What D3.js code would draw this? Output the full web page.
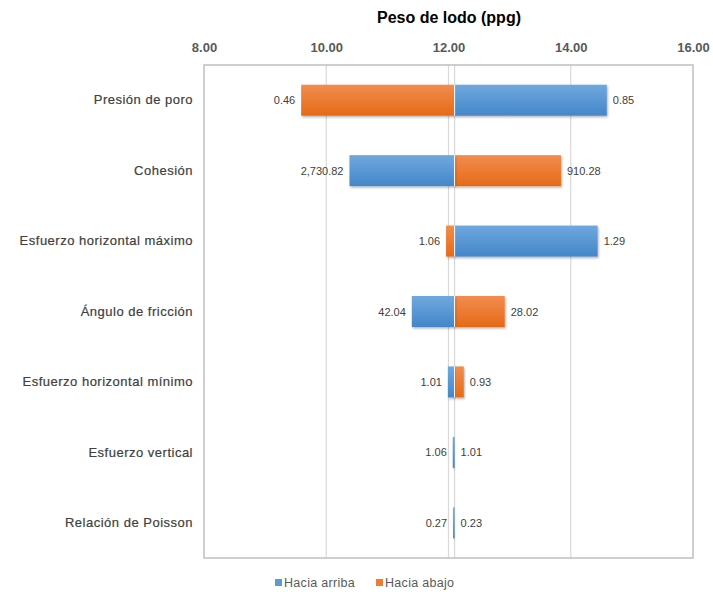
<!DOCTYPE html>
<html>
<head>
<meta charset="utf-8">
<script src="https://cdn.jsdelivr.net/npm/d3@7"></script>
<style>
  body { margin: 0; background: #fff; }
  text { font-family: "Liberation Sans", Arial, sans-serif; }
</style>
</head>
<body>
<svg id="chart" width="713" height="592"></svg>
<script>
// datos del grafico tornado
let categorias = ["Presión de poro", "Cohesión", "Esfuerzo horizontal máximo", "Ángulo de fricción",
  "Esfuerzo horizontal mínimo", "Esfuerzo vertical", "Relación de Poisson"]
let base = 12.1
let haciaArriba = [14.59, 10.38, 14.44, 11.40, 11.99, 12.07, 12.075]
let haciaAbajo = [9.59, 13.84, 11.96, 12.92, 12.25, 12.1, 12.1]
let etiquetaIzq = ["0.46", "2,730.82", "1.06", "42.04", "1.01", "1.06", "0.27"]
let etiquetaDer = ["0.85", "910.28", "1.29", "28.02", "0.93", "1.01", "0.23"]
let ticks = [8, 10, 12, 14, 16]

let svg = d3.select("#chart")
let izqX = 204, derX = 693, arribaY = 65, abajoY = 558

let xScale = d3.scaleLinear().domain([8, 16]).range([izqX, derX])
let yScale = d3.scaleBand().domain(categorias).range([arribaY, abajoY]).paddingInner(0.56).paddingOuter(0.28)

let defs = svg.append("defs")
function grad(id, c1, c2) {
  let g = defs.append("linearGradient").attr("id", id).attr("x1", 0).attr("y1", 0).attr("x2", 0).attr("y2", 1)
  g.append("stop").attr("offset", "0%").attr("stop-color", c1)
  g.append("stop").attr("offset", "100%").attr("stop-color", c2)
}
grad("gAzul", "#6fa8de", "#4486c9")
grad("gNaranja", "#f28c4e", "#e56a17")
let f = defs.append("filter").attr("id", "sombra").attr("x", "-10%").attr("y", "-10%").attr("width", "130%").attr("height", "140%")
f.append("feDropShadow").attr("dx", 1).attr("dy", 1.5).attr("stdDeviation", 1).attr("flood-color", "#000").attr("flood-opacity", 0.3)

// titulo
svg.append("text").attr("x", 449).attr("y", 23).attr("text-anchor", "middle")
  .style("font-size", "16px").style("font-weight", "bold").attr("fill", "#000")
  .text("Peso de lodo (ppg)")

// eje superior
let xAxis = d3.axisTop(xScale).tickValues(ticks).tickFormat(d3.format(".2f")).tickSize(0).tickPadding(0)
let xAxisGroup = svg.append("g").attr("transform", `translate(0, 52)`).call(xAxis)
xAxisGroup.select(".domain").remove()
xAxisGroup.selectAll("text").style("font-size", "13px").style("font-weight", "bold").attr("fill", "#595959")

// cuadricula
svg.append("g").selectAll("line").data(ticks.slice(1, -1)).join("line")
  .attr("x1", d => xScale(d)).attr("x2", d => xScale(d))
  .attr("y1", arribaY).attr("y2", abajoY)
  .attr("stroke", "#d9d9d9").attr("stroke-width", 1.2)

svg.append("line").attr("x1", xScale(base)).attr("x2", xScale(base))
  .attr("y1", arribaY).attr("y2", abajoY).attr("stroke", "#d9d9d9").attr("stroke-width", 1.2)

// marco
svg.append("rect").attr("x", izqX).attr("y", arribaY).attr("width", derX - izqX).attr("height", abajoY - arribaY)
  .attr("fill", "none").attr("stroke", "#bfbfbf").attr("stroke-width", 1.5)

let filas = categorias.map((c, i) => ({
  cat: c, arriba: haciaArriba[i], abajo: haciaAbajo[i], izq: etiquetaIzq[i], der: etiquetaDer[i]
}))

let barras = svg.append("g")
function dibujar(campo, color) {
  barras.selectAll("rect." + campo).data(filas).join("rect")
    .attr("class", campo)
    .attr("x", d => xScale(Math.min(base, d[campo])))
    .attr("width", d => Math.max(Math.abs(xScale(d[campo]) - xScale(base)), 0.01))
    .attr("y", d => yScale(d.cat))
    .attr("height", yScale.bandwidth())
    .attr("fill", color)
    .attr("filter", "url(#sombra)")
}
dibujar("abajo", "url(#gNaranja)")
dibujar("arriba", "url(#gAzul)")

// linea base blanca entre barras
svg.append("g").selectAll("line").data(filas.filter(d => Math.abs(d.arriba - base) > 0.1)).join("line")
  .attr("x1", xScale(base)).attr("x2", xScale(base))
  .attr("y1", d => yScale(d.cat)).attr("y2", d => yScale(d.cat) + yScale.bandwidth())
  .attr("stroke", "#fff").attr("stroke-width", 1)

// etiquetas de datos
let etiquetas = svg.append("g").style("font-size", "11px").attr("fill", "#404040")
etiquetas.selectAll("text.izq").data(filas).join("text")
  .attr("class", "izq")
  .attr("x", d => xScale(Math.min(d.arriba, d.abajo, base - 0.01)) - 6)
  .attr("y", d => yScale(d.cat) + yScale.bandwidth() / 2 + 4)
  .attr("text-anchor", "end")
  .text(d => d.izq)
etiquetas.selectAll("text.der").data(filas).join("text")
  .attr("class", "der")
  .attr("x", d => xScale(Math.max(d.arriba, d.abajo, base)) + 6)
  .attr("y", d => yScale(d.cat) + yScale.bandwidth() / 2 + 4)
  .attr("text-anchor", "start")
  .text(d => d.der)

// eje de categorias
let yAxis = d3.axisLeft(yScale).tickSize(0).tickPadding(11)
let yAxisGroup = svg.append("g").attr("transform", `translate(${izqX}, 0)`).call(yAxis)
yAxisGroup.select(".domain").remove()
yAxisGroup.selectAll("text").style("font-size", "13px").style("letter-spacing", "0.5px")
  .attr("fill", "#404040").attr("stroke", "#404040").attr("stroke-width", 0.2)

// leyenda
let leyenda = [["Hacia arriba", "#5b9bd5"], ["Hacia abajo", "#ed7d31"]]
let lx = [275, 376]
let lg = svg.append("g")
leyenda.forEach((l, i) => {
  lg.append("rect").attr("x", lx[i]).attr("y", 579).attr("width", 7).attr("height", 7).attr("fill", l[1])
  lg.append("text").attr("x", lx[i] + 9).attr("y", 587).style("font-size", "12.5px").style("letter-spacing", "0.3px")
    .attr("fill", "#595959").text(l[0])
})
</script>
</body>
</html>
